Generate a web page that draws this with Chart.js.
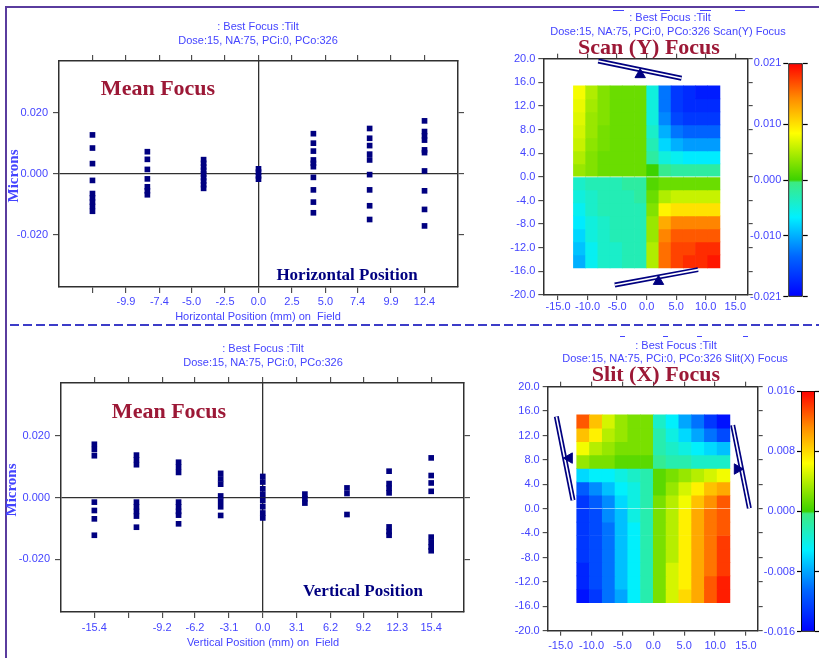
<!DOCTYPE html>
<html>
<head>
<meta charset="utf-8">
<script src="https://cdn.jsdelivr.net/npm/chart.js@4.4.1/dist/chart.umd.min.js"></script>
<style>
body { margin: 0; background: #fff; }
#page { position: relative; width: 819px; height: 658px; overflow: hidden; background: #fff; font-family: "Liberation Sans", Arial, sans-serif; }
canvas { position: absolute; }
.t { position: absolute; white-space: nowrap; transform: translate(-50%, -50%); line-height: 1; }
.small { font-size: 11px; color: #4444ff; }
.big { font-family: "Liberation Serif", serif; font-weight: bold; font-size: 22px; color: #9c1836; }
.pos { font-family: "Liberation Serif", serif; font-weight: bold; font-size: 17px; color: #000080; }
.mic { font-family: "Liberation Serif", serif; font-weight: bold; font-size: 15px; color: #4444ff; transform: translate(-50%, -50%) rotate(-90deg); }
.dash { position: absolute; height: 1px; background: #4444ff; }
#frameTop { position: absolute; left: 5px; top: 6px; width: 814px; height: 2px; background: #5a3c9e; }
#frameLeft { position: absolute; left: 5px; top: 6px; width: 2px; height: 652px; background: #5a3c9e; }
#divider { position: absolute; left: 10px; top: 324px; width: 809px; height: 2px; background: repeating-linear-gradient(90deg, #3c3cc8 0 9px, transparent 9px 13px); }
</style>
</head>
<body>
<div id="page">
  <div id="frameTop"></div>
  <div id="frameLeft"></div>
  <div id="divider"></div>

  <canvas id="hScatter" width="480" height="325" style="left:0;top:0"></canvas>
  <canvas id="vScatter" width="480" height="333" style="left:0;top:325px"></canvas>
  <canvas id="scanMap" width="275" height="325" style="left:480px;top:0"></canvas>
  <canvas id="scanBar" width="69" height="325" style="left:750px;top:0"></canvas>
  <canvas id="slitMap" width="285" height="333" style="left:480px;top:325px"></canvas>
  <canvas id="slitBar" width="57" height="333" style="left:762px;top:325px"></canvas>

  <div class="t small" style="left:258px;top:26px">: Best Focus :Tilt</div>
  <div class="t small" style="left:258px;top:40px">Dose:15, NA:75, PCi:0, PCo:326</div>
  <div class="t big" style="left:158px;top:88px">Mean Focus</div>
  <div class="t pos" style="left:347px;top:274px">Horizontal Position</div>
  <div class="t mic" style="left:13px;top:176px">Microns</div>
  <div class="t small" style="left:258px;top:316px">Horizontal Position (mm) on&nbsp; Field</div>

  <div class="t small" style="left:263px;top:348px">: Best Focus :Tilt</div>
  <div class="t small" style="left:263px;top:362px">Dose:15, NA:75, PCi:0, PCo:326</div>
  <div class="t big" style="left:169px;top:411px">Mean Focus</div>
  <div class="t pos" style="left:363px;top:590px">Vertical Position</div>
  <div class="t mic" style="left:11px;top:490px">Microns</div>
  <div class="t small" style="left:263px;top:642px">Vertical Position (mm) on&nbsp; Field</div>

  <div class="dash" style="left:613px;top:10px;width:11px"></div>
  <div class="dash" style="left:660px;top:10px;width:10px"></div>
  <div class="dash" style="left:700px;top:10px;width:11px"></div>
  <div class="dash" style="left:735px;top:10px;width:10px"></div>
  <div class="t small" style="left:670px;top:17px">: Best Focus :Tilt</div>
  <div class="t small" style="left:668px;top:31px">Dose:15, NA:75, PCi:0, PCo:326 Scan(Y) Focus</div>
  <div class="t big" style="left:649px;top:47px">Scan (Y) Focus</div>

  <div class="dash" style="left:620px;top:336px;width:5px"></div>
  <div class="dash" style="left:663px;top:336px;width:5px"></div>
  <div class="dash" style="left:697px;top:336px;width:5px"></div>
  <div class="dash" style="left:743px;top:336px;width:5px"></div>
  <div class="t small" style="left:676px;top:345px">: Best Focus :Tilt</div>
  <div class="t small" style="left:675px;top:358px">Dose:15, NA:75, PCi:0, PCo:326 Slit(X) Focus</div>
  <div class="t big" style="left:656px;top:374px">Slit (X) Focus</div>
</div>

<script>
// ---- mean focus, horizontal positions (top left)
const hPositions = [-12.4, -8.3, -4.1, 0, 4.1, 8.3, 12.4];
const hFocus = [
  [0.0128, 0.0085, 0.0034, -0.0021, -0.0064, -0.0078, -0.0092, -0.0106, -0.0122],
  [0.0073, 0.0048, 0.0015, -0.0016, -0.0042, -0.0055, -0.0068],
  [0.0047, 0.0035, 0.0023, 0.0012, 0.0, -0.0012, -0.0023, -0.0035, -0.0047],
  [0.0017, 0.0006, -0.0006, -0.0017],
  [0.0132, 0.0101, 0.0075, 0.0046, 0.0035, 0.0024, -0.0011, -0.0052, -0.0092, -0.0127],
  [0.0149, 0.0117, 0.0093, 0.0065, 0.0046, -0.0002, -0.0052, -0.0104, -0.0149],
  [0.0174, 0.0139, 0.0125, 0.0111, 0.0079, 0.0070, 0.0010, -0.0055, -0.0116, -0.0170]
];
const hTicks = [-12.4, -9.9, -7.4, -5.0, -2.5, 0, 2.5, 5.0, 7.4, 9.9, 12.4];
const hTickLabels = ['', '-9.9', '-7.4', '-5.0', '-2.5', '0.0', '2.5', '5.0', '7.4', '9.9', '12.4'];

// ---- mean focus, vertical positions (bottom left)
const vPositions = [-15.4, -11.55, -7.7, -3.85, 0, 3.85, 7.7, 11.55, 15.4];
const vFocus = [
  [0.0172, 0.0155, 0.0135, -0.0015, -0.0042, -0.0069, -0.0122],
  [0.0137, 0.0122, 0.0106, -0.0015, -0.0030, -0.0045, -0.0060, -0.0096],
  [0.0114, 0.0098, 0.0081, -0.0015, -0.0030, -0.0045, -0.0057, -0.0085],
  [0.0078, 0.0060, 0.0043, 0.0005, -0.0012, -0.0030, -0.0058],
  [0.0068, 0.0050, 0.0028, 0.0010, -0.0010, -0.0030, -0.0050, -0.0066],
  [0.0011, -0.0004, -0.0018],
  [0.0031, 0.0013, -0.0055],
  [0.0085, 0.0045, 0.0030, 0.0015, -0.0095, -0.0110, -0.0122],
  [0.0128, 0.0071, 0.0047, 0.0020, -0.0128, -0.0145, -0.0160, -0.0172]
];
const vTicks = [-15.4, -12.3, -9.2, -6.2, -3.1, 0, 3.1, 6.2, 9.2, 12.3, 15.4];
const vTickLabels = ['-15.4', '', '-9.2', '-6.2', '-3.1', '0.0', '3.1', '6.2', '9.2', '12.3', '15.4'];
const focusTicks = [-0.02, 0, 0.02];

// ---- focus maps (cells 12 x 14, rows listed top to bottom)
const mapXTicks = [-15, -10, -5, 0, 5, 10, 15];
const mapYTicks = [-20, -16, -12, -8, -4, 0, 4, 8, 12, 16, 20];
const cellX = [-11.3667, -9.3, -7.2333, -5.1667, -3.1, -1.0333, 1.0333, 3.1, 5.1667, 7.2333, 9.3, 11.3667];
const cellYEdges = [15.4, 13.2, 11.0, 8.8, 6.6, 4.4, 2.2, 0, -2.2, -4.4, -6.6, -8.8, -11.0, -13.2, -15.4];

const scanFocus = [
  [0.008, 0.005, 0.003, 0.002, 0.002, 0.002, -0.005, -0.013, -0.017, -0.018, -0.019, -0.019],
  [0.0075, 0.0045, 0.003, 0.002, 0.002, 0.002, -0.005, -0.013, -0.017, -0.018, -0.018, -0.018],
  [0.007, 0.004, 0.003, 0.002, 0.002, 0.002, -0.005, -0.012, -0.016, -0.017, -0.017, -0.017],
  [0.0065, 0.004, 0.0025, 0.002, 0.002, 0.002, -0.004, -0.010, -0.013, -0.014, -0.014, -0.014],
  [0.006, 0.0035, 0.0025, 0.002, 0.002, 0.002, -0.003, -0.008, -0.010, -0.011, -0.011, -0.011],
  [0.005, 0.003, 0.002, 0.002, 0.002, 0.002, -0.002, -0.005, -0.006, -0.007, -0.007, -0.007],
  [0.004, 0.003, 0.002, 0.002, 0.002, 0.002, 0.000, -0.001, -0.002, -0.002, -0.002, -0.002],
  [-0.004, -0.003, -0.003, -0.003, -0.002, -0.002, 0.001, 0.002, 0.002, 0.002, 0.002, 0.002],
  [-0.005, -0.004, -0.003, -0.003, -0.003, -0.002, 0.002, 0.005, 0.006, 0.006, 0.006, 0.006],
  [-0.006, -0.004, -0.003, -0.003, -0.003, -0.003, 0.003, 0.009, 0.010, 0.010, 0.010, 0.010],
  [-0.007, -0.005, -0.004, -0.003, -0.003, -0.003, 0.004, 0.013, 0.015, 0.015, 0.015, 0.015],
  [-0.008, -0.005, -0.004, -0.003, -0.003, -0.003, 0.004, 0.015, 0.017, 0.017, 0.017, 0.017],
  [-0.009, -0.006, -0.004, -0.004, -0.003, -0.003, 0.005, 0.016, 0.018, 0.018, 0.019, 0.019],
  [-0.010, -0.006, -0.004, -0.004, -0.003, -0.003, 0.005, 0.016, 0.018, 0.019, 0.019, 0.020]
];
const slitFocus = [
  [0.013, 0.009, 0.005, 0.003, 0.002, 0.002, -0.003, -0.005, -0.008, -0.010, -0.013, -0.015],
  [0.009, 0.007, 0.004, 0.003, 0.002, 0.002, -0.002, -0.004, -0.006, -0.008, -0.010, -0.012],
  [0.006, 0.004, 0.003, 0.002, 0.002, 0.002, -0.002, -0.003, -0.004, -0.005, -0.006, -0.007],
  [0.003, 0.002, 0.002, 0.001, 0.001, 0.001, -0.001, -0.002, -0.002, -0.003, -0.003, -0.003],
  [-0.006, -0.005, -0.005, -0.004, -0.003, -0.002, 0.001, 0.002, 0.003, 0.004, 0.005, 0.006],
  [-0.011, -0.009, -0.007, -0.005, -0.004, -0.002, 0.001, 0.003, 0.005, 0.007, 0.009, 0.010],
  [-0.013, -0.011, -0.009, -0.006, -0.004, -0.002, 0.002, 0.004, 0.006, 0.009, 0.011, 0.013],
  [-0.013, -0.012, -0.009, -0.007, -0.004, -0.002, 0.002, 0.004, 0.007, 0.010, 0.012, 0.013],
  [-0.013, -0.012, -0.010, -0.007, -0.005, -0.002, 0.002, 0.004, 0.007, 0.010, 0.012, 0.013],
  [-0.013, -0.012, -0.010, -0.007, -0.005, -0.002, 0.002, 0.004, 0.007, 0.010, 0.012, 0.014],
  [-0.013, -0.012, -0.010, -0.007, -0.005, -0.002, 0.002, 0.004, 0.007, 0.010, 0.012, 0.014],
  [-0.014, -0.012, -0.010, -0.007, -0.005, -0.002, 0.002, 0.005, 0.007, 0.010, 0.012, 0.014],
  [-0.014, -0.012, -0.010, -0.007, -0.005, -0.002, 0.002, 0.005, 0.007, 0.010, 0.013, 0.015],
  [-0.015, -0.013, -0.010, -0.008, -0.005, -0.002, 0.002, 0.005, 0.008, 0.010, 0.013, 0.015]
];
const scanScale = [-0.021, -0.010, 0, 0.010, 0.021];
const slitScale = [-0.016, -0.008, 0, 0.008, 0.016];

// tilt indicators (end points and pivots, in field mm)
const scanTiltBars = [[[-8.2, 19.6], [5.9, 16.7]], [[-5.4, -18.3], [8.7, -15.7]]];
const scanPivots = [[-1.1, 17.3], [2.0, -17.7]];
const slitTiltBars = [[[-15.7, 15.1], [-13.0, 1.4]], [[12.85, 13.7], [15.55, 0.07]]];
const slitPivots = [[-13.6, 8.3], [13.6, 6.5]];

const NAVY = '#000080';
const AXIS = '#303030';
const BLUE = '#4444ff';
const SANS = '"Liberation Sans", Arial, sans-serif';
const JET = [
  [0, [0, 0, 255]], [0.17, [0, 100, 255]], [0.34, [0, 240, 255]], [0.49, [60, 235, 130]],
  [0.5, [60, 210, 0]], [0.7, [255, 255, 0]], [0.85, [255, 140, 0]], [1, [255, 0, 0]]
];

function jetColor(t) {
  t = Math.max(0, Math.min(1, t));
  for (let i = 1; i < JET.length; i++) {
    const [t1, c1] = JET[i];
    const [t0, c0] = JET[i - 1];
    if (t <= t1) {
      const f = (t - t0) / (t1 - t0);
      const c = c0.map((v, k) => Math.round(v + (c1[k] - v) * f));
      return `rgb(${c[0]},${c[1]},${c[2]})`;
    }
  }
  return 'rgb(255,0,0)';
}

function frameScales(f) {
  const zero = ctx => (f.zeroLines && ctx.tick && ctx.tick.value === 0) ? AXIS : 'rgba(0,0,0,0)';
  const axis = (dir, pos, range, ticks, size, labelFn, pad) => ({
    type: 'linear', axis: dir, position: pos, min: range[0], max: range[1], offset: false,
    afterBuildTicks: s => { s.ticks = ticks.map(value => ({ value })); },
    afterFit: s => { if (dir === 'x') s.height = size; else s.width = size; },
    ticks: {
      display: !!labelFn, callback: labelFn || (() => ''), color: BLUE,
      font: { family: SANS, size: 11 }, padding: pad, autoSkip: false, maxRotation: 0
    },
    grid: {
      drawOnChartArea: !!labelFn, offset: false, color: zero, lineWidth: 1.3,
      tickColor: AXIS, tickWidth: 1, tickLength: f.tick
    },
    border: { color: AXIS, width: 1.5 }
  });
  return {
    x: axis('x', 'bottom', f.x, f.xTicks, f.box.bottom, f.xLabel, f.xPad),
    xTop: axis('x', 'top', f.x, f.xTicks, f.box.top, null, 0),
    y: axis('y', 'left', f.y, f.yTicks, f.box.left, f.yLabel, f.yPad),
    yRight: axis('y', 'right', f.y, f.yTicks, f.box.right, null, 0)
  };
}

const baseOptions = {
  responsive: false, animation: false, events: [],
  layout: { padding: 0 },
  plugins: { legend: { display: false }, tooltip: { enabled: false } }
};

function makeScatter(id, positions, columns, xRange, xTicks, xLabels, box, xPad) {
  const datasets = positions.map((x, i) => ({
    data: columns[i].map(y => ({ x, y })),
    pointStyle: 'rect', pointRadius: 4, pointHoverRadius: 4,
    backgroundColor: NAVY, borderColor: NAVY, borderWidth: 0
  }));
  new Chart(document.getElementById(id), {
    type: 'scatter',
    data: { datasets },
    options: {
      ...baseOptions,
      scales: frameScales({
        x: xRange, y: [-0.037, 0.037], xTicks, yTicks: focusTicks, box, tick: 6, zeroLines: true,
        xLabel: (v, i) => xLabels[i], xPad,
        yLabel: v => v.toFixed(3), yPad: 5
      })
    }
  });
}

function makeMap(id, grid, range, xRange, box, tiltBars, pivots, pivotTurn, xPad) {
  const datasets = grid.map((row, r) => ({
    type: 'bar', grouped: false, order: 3,
    data: cellX.map(x => ({ x, y: [cellYEdges[r + 1], cellYEdges[r]] })),
    backgroundColor: row.map(v => jetColor((v + range) / (2 * range))),
    borderWidth: 0, barPercentage: 1, categoryPercentage: 1
  }));
  tiltBars.forEach(bar => {
    const pts = bar.map(([x, y]) => ({ x, y }));
    datasets.push({ type: 'line', data: pts, borderColor: NAVY, borderWidth: 5, pointRadius: 0, order: 2 });
    datasets.push({ type: 'line', data: pts, borderColor: '#fff', borderWidth: 1.6, pointRadius: 0, order: 1 });
  });
  datasets.push({
    type: 'line', showLine: false, order: 0,
    data: pivots.map(([x, y]) => ({ x, y })),
    pointStyle: 'triangle', pointRadius: 6, pointRotation: pivotTurn,
    pointBackgroundColor: NAVY, pointBorderColor: NAVY, pointBorderWidth: 1
  });
  new Chart(document.getElementById(id), {
    type: 'bar',
    data: { datasets },
    options: {
      ...baseOptions,
      scales: frameScales({
        x: xRange, y: [-20, 20], xTicks: mapXTicks, yTicks: mapYTicks, box, tick: 5, zeroLines: false,
        xLabel: v => v.toFixed(1), xPad,
        yLabel: v => v.toFixed(1), yPad: 3
      })
    }
  });
}

function makeColorBar(id, scaleTicks, box, tick) {
  const range = scaleTicks[scaleTicks.length - 1];
  const side = (pos, size, labels) => ({
    type: 'linear', axis: 'y', position: pos, min: -range, max: range,
    afterBuildTicks: s => { s.ticks = scaleTicks.map(value => ({ value })); },
    afterFit: s => { s.width = size; },
    ticks: {
      display: labels, callback: v => v.toFixed(3), color: BLUE,
      font: { family: SANS, size: 11 }, padding: 2
    },
    grid: { drawOnChartArea: false, tickColor: '#000', tickLength: tick, tickWidth: 1.2 },
    border: { display: false }
  });
  new Chart(document.getElementById(id), {
    type: 'bar',
    data: {
      labels: [''],
      datasets: [{
        data: [[-range, range]],
        backgroundColor: ctx => {
          const area = ctx.chart.chartArea;
          if (!area) return '#888';
          const g = ctx.chart.ctx.createLinearGradient(0, area.bottom, 0, area.top);
          JET.forEach(([t, c]) => g.addColorStop(t, `rgb(${c[0]},${c[1]},${c[2]})`));
          return g;
        },
        borderColor: '#000', borderWidth: 1.2, borderSkipped: false,
        barPercentage: 1, categoryPercentage: 1
      }]
    },
    options: {
      ...baseOptions,
      layout: { padding: { top: box.top, bottom: box.bottom } },
      scales: {
        x: { display: false },
        y: side('left', box.left, true),
        yRight: side('right', box.right, false)
      }
    }
  });
}

makeScatter('hScatter', hPositions, hFocus, [-14.9, 14.9], hTicks, hTickLabels,
  { left: 59, right: 22, top: 61, bottom: 38 }, 2);
makeScatter('vScatter', vPositions, vFocus, [-18.45, 18.4], vTicks, vTickLabels,
  { left: 61, right: 16, top: 58, bottom: 46 }, 3);

makeMap('scanMap', scanFocus, 0.021, [-17.5, 17.1],
  { left: 63.3, right: 7.3, top: 58.7, bottom: 30 }, scanTiltBars, scanPivots, [0, 0], 0);
makeMap('slitMap', slitFocus, 0.016, [-17.1, 16.9],
  { left: 67.7, right: 7.3, top: 61.7, bottom: 27.3 }, slitTiltBars, slitPivots, [-90, 90], 4);

makeColorBar('scanBar', scanScale, { left: 38.3, right: 16.3, top: 63.3, bottom: 28.3 }, 5);
makeColorBar('slitBar', slitScale, { left: 39, right: 4, top: 66, bottom: 26.3 }, 4);
</script>
</body>
</html>
